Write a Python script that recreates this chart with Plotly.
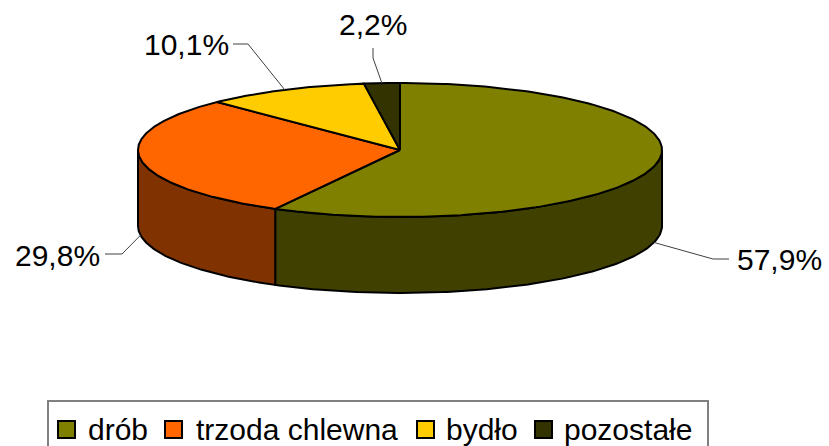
import numpy as np
import plotly.graph_objects as go

categories = ["drób", "trzoda chlewna", "bydło", "pozostałe"]
values = [57.9, 29.8, 10.1, 2.2]
top_colors = ["#808000", "#FF6600", "#FFCC00", "#333300"]
side_colors = ["#404000", "#803300", "#806600", "#1a1a00"]
title_text = "Struktura grup"

# geometry of the 3D pie (pixel space)
CX, CY, A, B, DEPTH = 400.0, 150.0, 262.0, 67.0, 76.0
FONT = "Liberation Sans, Arial, sans-serif"


def pt(theta_deg, dy=0.0):
    t = np.radians(theta_deg)
    return CX + A * np.sin(t), CY - B * np.cos(t) + dy


fig = go.Figure()

total = sum(values)
starts, ends = [], []
acc = 0.0
for v in values:
    starts.append(acc / total * 360.0)
    acc += v
    ends.append(acc / total * 360.0)

# side walls (front half only: 90..270 deg clockwise from top)
for i in range(len(values)):
    a0, a1 = max(starts[i], 90.0), min(ends[i], 270.0)
    if a1 <= a0:
        continue
    th = np.linspace(a0, a1, 120)
    xt, yt = pt(th)
    xb, yb = pt(th[::-1], DEPTH)
    xs = np.concatenate([xt, xb, xt[:1]])
    ys = np.concatenate([yt, yb, yt[:1]])
    fig.add_trace(go.Scatter(x=xs, y=ys, mode="lines", fill="toself",
                             fillcolor=side_colors[i],
                             line=dict(color="black", width=2),
                             hoverinfo="skip", showlegend=False))

# top faces
for i in range(len(values)):
    th = np.linspace(starts[i], ends[i], 200)
    xt, yt = pt(th)
    xs = np.concatenate([[CX], xt, [CX]])
    ys = np.concatenate([[CY], yt, [CY]])
    fig.add_trace(go.Scatter(x=xs, y=ys, mode="lines", fill="toself",
                             fillcolor=top_colors[i],
                             line=dict(color="black", width=2),
                             hoverinfo="skip", showlegend=False))

# data labels with leader lines
label_pos = [  # (elbow, end, text position, anchor)
    ((713, 259), (729, 259), (735, 259), "left"),
    ((122, 254), (105, 254), (102, 255), "right"),
    ((248, 44), (233, 44), (231, 44), "right"),
    ((373, 58), (373, 48), (373, 24), "center"),
]
for i, v in enumerate(values):
    mid = (starts[i] + ends[i]) / 2.0
    ax, ay = pt(mid)
    if 90.0 <= mid <= 270.0:
        ay += DEPTH
    (ex, ey), (fx, fy), (tx, ty), anc = label_pos[i]
    fig.add_trace(go.Scatter(x=[ax, ex, fx], y=[ay, ey, fy], mode="lines",
                             line=dict(color="#404040", width=1),
                             hoverinfo="skip", showlegend=False))
    txt = f"{v:.1f}".replace(".", ",") + "%"
    fig.add_annotation(x=tx, y=ty, text=txt, showarrow=False,
                       xanchor=anc, yanchor="middle",
                       font=dict(family=FONT, size=30, color="black"))

# title (mostly cropped above the visible area)
fig.add_annotation(x=263, y=2.5, text=f"<b>{title_text}</b>", showarrow=False,
                   xanchor="right", yanchor="bottom",
                   font=dict(family=FONT, size=30, color="black"))

# legend (manual)
fig.add_shape(type="rect", x0=48, x1=708, y0=401, y1=452,
              line=dict(color="#808080", width=2), fillcolor="white", layer="below")
leg_marker_x = [58, 165, 417, 535]
leg_text_x = [86, 194, 444, 562]
for i, c in enumerate(categories):
    mx = leg_marker_x[i]
    fig.add_shape(type="rect", x0=mx, x1=mx + 17, y0=421, y1=438,
                  line=dict(color="black", width=2), fillcolor=top_colors[i])
    fig.add_annotation(x=leg_text_x[i], y=429, text=c, showarrow=False,
                       xanchor="left", yanchor="middle",
                       font=dict(family=FONT, size=30, color="black"))

fig.update_layout(
    width=829, height=446,
    margin=dict(l=0, r=0, t=0, b=0),
    paper_bgcolor="white", plot_bgcolor="white",
    xaxis=dict(range=[0, 829], visible=False, fixedrange=True),
    yaxis=dict(range=[446, 0], visible=False, fixedrange=True),
    showlegend=False,
)
fig.write_html("out.html", config={"displayModeBar": False},
               post_script="document.body.style.margin='0';document.body.style.overflow='hidden';")
